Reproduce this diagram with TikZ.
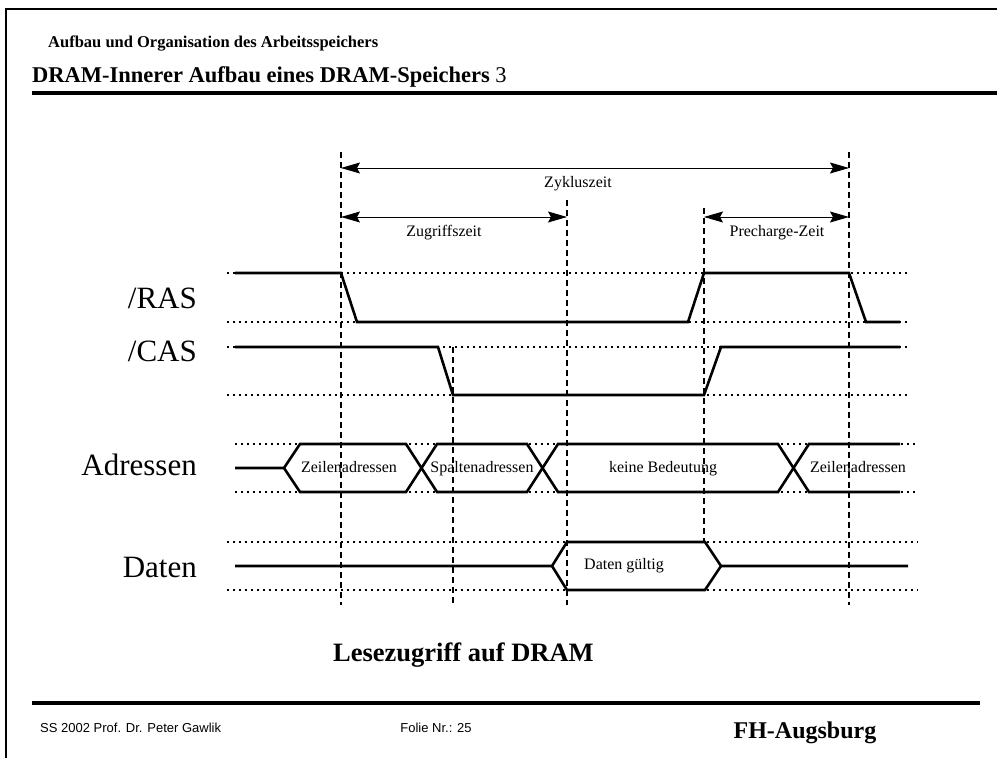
\documentclass[tikz,border=0pt]{standalone}
\usepackage{fontspec}
\setmainfont{Liberation Serif}
\newfontfamily\arialfont{Liberation Sans}
\usetikzlibrary{arrows.meta}
\begin{document}
\begin{tikzpicture}[x=1pt,y=-1pt,
  sig/.style={line width=2.6pt, line join=miter, line cap=butt},
  refline/.style={line width=1.3pt, dash pattern=on 2pt off 4pt},
  vmark/.style={line width=1.8pt, dash pattern=on 6pt off 4pt},
  dimarrow/.style={line width=0.9pt, {Stealth[length=19pt,width=11pt,inset=3pt]}-{Stealth[length=19pt,width=11pt,inset=3pt]}},
  lbl/.style={font=\fontsize{16}{18}\selectfont, inner sep=0pt, anchor=base},
  sname/.style={font=\fontsize{31}{34}\selectfont, inner sep=0pt, anchor=base east},
]
\useasboundingbox (0,0) rectangle (997,758);
\fill[white] (0,0) rectangle (997,758);

% frame and rules
\draw[line width=2pt] (6,758) -- (6,9) -- (997,9);
\draw[line width=4.5pt] (32,93) -- (997,93);
\draw[line width=4pt] (32,703) -- (980,703);

% header
\node[inner sep=0pt, anchor=base west, font=\bfseries\fontsize{16.5}{18}\selectfont] (hdr) at (48,47) {Aufbau und Organisation des Arbeitsspeichers};
\node[inner sep=0pt, anchor=base west, font=\fontsize{22.5}{25}\selectfont] (title) at (32,82) {\textbf{DRAM-Innerer Aufbau eines DRAM-Speichers} 3};

% reference dotted lines
\draw[refline] (227,273) -- (910,273);
\draw[refline] (227,322) -- (910,322);
\draw[refline] (227,347) -- (910,347);
\draw[refline] (227,395) -- (910,395);
\draw[refline] (235,444) -- (918,444);
\draw[refline] (235,492) -- (918,492);
\draw[refline] (227,542) -- (918,542);
\draw[refline] (227,590) -- (918,590);

% vertical dashed markers
\coordinate (v1t) at (341,152); \coordinate (v1b) at (341,605);
\coordinate (v2t) at (453,347); \coordinate (v2b) at (453,605);
\coordinate (v3t) at (567,200); \coordinate (v3b) at (567,605);
\coordinate (v4t) at (704,208); \coordinate (v4b) at (704,541);
\coordinate (v5t) at (849,152); \coordinate (v5b) at (849,605);
\draw[vmark] (v1t) -- (v1b);
\draw[vmark] (v2t) -- (v2b);
\draw[vmark] (v3t) -- (v3b);
\draw[vmark] (v4t) -- (v4b);
\draw[vmark] (v5t) -- (v5b);

% dimension arrows
\coordinate (zy1) at (341,168); \coordinate (zy2) at (849,168);
\coordinate (zu1) at (341,217); \coordinate (zu2) at (567,217);
\coordinate (pr1) at (704,217); \coordinate (pr2) at (849,217);
\draw[dimarrow] (zy1) -- (zy2);
\draw[dimarrow] (zu1) -- (zu2);
\draw[dimarrow] (pr1) -- (pr2);
\node[lbl] (lzy) at (578,187) {Zykluszeit};
\node[lbl] (lzu) at (444,236) {Zugriffszeit};
\node[lbl] (lpr) at (777,236) {Precharge-Zeit};

% signal names
\node[sname] (nras) at (197,308) {/RAS};
\node[sname] (ncas) at (197,361) {/CAS};
\node[sname] (nadr) at (197,475) {Adressen};
\node[sname] (ndat) at (197,577) {Daten};

% RAS
\draw[sig] (235,273) -- (341,273) -- (357,322) -- (688,322) -- (704,273) -- (849,273) -- (866,322) -- (900,322);
% CAS
\draw[sig] (235,347) -- (438,347) -- (453,395) -- (704,395) -- (721,347) -- (900,347);
% Adressen
\draw[sig] (235,468) -- (284,468) -- (300,444) -- (406,444) -- (437,492) -- (527,492) -- (558,444) -- (778,444) -- (809,492) -- (900,492);
\draw[sig] (284,468) -- (300,492) -- (406,492) -- (437,444) -- (527,444) -- (558,492) -- (778,492) -- (809,444) -- (900,444);
\node[lbl] (a1) at (349,472) {Zeilenadressen};
\node[lbl] (a2) at (482,472) {Spaltenadressen};
\node[lbl] (a3) at (663,472) {keine Bedeutung};
\node[lbl] (a4) at (858,472) {Zeilenadressen};
% Daten
\draw[sig] (235,566) -- (552,566) -- (567,542) -- (705,542) -- (721,566) -- (908,566);
\draw[sig] (552,566) -- (567,590) -- (705,590) -- (721,566);
\node[lbl] (d1) at (624,569) {Daten gültig};

% caption
\node[inner sep=0pt, anchor=base west, font=\bfseries\fontsize{26.5}{30}\selectfont] (cap) at (333,661) {Lesezugriff auf DRAM};

% footer
\node[inner sep=0pt, anchor=base west, font=\arialfont\fontsize{13}{15}\selectfont] (f1) at (40,732) {SS 2002 Prof. Dr. Peter Gawlik};
\node[inner sep=0pt, anchor=base, font=\arialfont\fontsize{13}{15}\selectfont] (f2) at (436,732) {Folie Nr.: 25};
\node[inner sep=0pt, anchor=base, font=\bfseries\fontsize{24}{27}\selectfont] (f3) at (805,738) {FH-Augsburg};
\end{tikzpicture}
\end{document}
